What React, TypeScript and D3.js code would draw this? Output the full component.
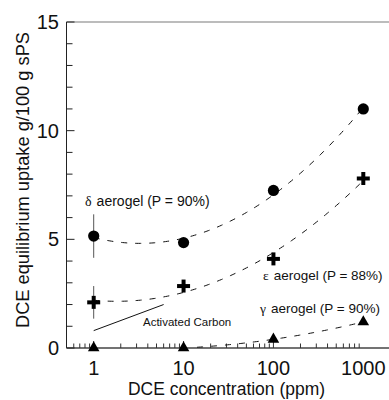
import * as d3 from "d3";

// DCE concentration (ppm)
const conc = [1, 10, 100, 1000];
// uptake, g / 100 g sPS
const deltaUptake = [5.15, 4.85, 7.25, 11.0];
const epsUptake = [2.1, 2.85, 4.1, 7.8];
const gammaUptake = [0, 0, 0.4, 1.2];
// error bars at 1 ppm: [low, high]
const deltaErr = [4.15, 6.15];
const epsErr = [1.35, 2.85];
// activated carbon reference line: [ppm, uptake]
const carbonLine: [number, number][] = [
  [1, 0.8],
  [6, 2.0],
];
const yTicks = d3.range(0, 16, 1);
const yLabels = [0, 5, 10, 15];
const xLabels = [1, 10, 100, 1000];

const W = 389;
const H = 400;
const FONT = "'Liberation Sans', Arial, Helvetica, sans-serif";
const SERIF = "'Liberation Serif', 'Times New Roman', serif";

// least squares quadratic in log10(x)
function quadFit(xs: number[], ys: number[]) {
  const t = xs.map((v) => Math.log10(v));
  const s = (f: (i: number) => number) => d3.sum(t, (_, i) => f(i));
  const n = t.length;
  const A = [
    [n, s((i) => t[i]), s((i) => t[i] ** 2)],
    [s((i) => t[i]), s((i) => t[i] ** 2), s((i) => t[i] ** 3)],
    [s((i) => t[i] ** 2), s((i) => t[i] ** 3), s((i) => t[i] ** 4)],
  ];
  const b = [s((i) => ys[i]), s((i) => t[i] * ys[i]), s((i) => t[i] ** 2 * ys[i])];
  // gaussian elimination
  for (let c = 0; c < 3; c++) {
    for (let r = c + 1; r < 3; r++) {
      const f = A[r][c] / A[c][c];
      for (let k = c; k < 3; k++) A[r][k] -= f * A[c][k];
      b[r] -= f * b[c];
    }
  }
  const co = [0, 0, 0];
  for (let r = 2; r >= 0; r--) {
    let v = b[r];
    for (let k = r + 1; k < 3; k++) v -= A[r][k] * co[k];
    co[r] = v / A[r][r];
  }
  return (tt: number) => co[0] + co[1] * tt + co[2] * tt * tt;
}

export default function App() {
  const x = d3.scaleLog().domain([1, 1000]).range([93.7, 363.3]);
  const y = d3.scaleLinear().domain([0, 15]).range([348, 22]);
  const left = 66.5;
  const right = 389;

  const xMinor: number[] = [];
  [0.1, 1, 10, 100].forEach((dec) =>
    d3.range(1, 10).forEach((m) => {
      const v = dec * m;
      if (x(v) > left + 1 && v <= 1000) xMinor.push(v);
    }),
  );

  const fitLine = (xs: number[], ys: number[], t0: number) => {
    const f = quadFit(xs, ys);
    const pts = d3.range(t0, 3.0001, 0.02).map((tt) => [x(10 ** tt), y(f(tt))] as [number, number]);
    return d3.line()(pts) ?? "";
  };

  const tri = d3.symbol(d3.symbolTriangle, 58)() ?? "";

  return (
    <svg
      width={W}
      height={H}
      style={{ position: "absolute", left: 0, top: 0, background: "#fff" }}
      fontFamily={FONT}
    >
      {/* frame */}
      <line x1={left} x2={right} y1={y(15)} y2={y(15)} stroke="#a6a6a6" strokeWidth={1.6} />
      <line x1={left} x2={left} y1={y(15)} y2={y(0)} stroke="#222" strokeWidth={1} />
      <line x1={left} x2={right} y1={y(0)} y2={y(0)} stroke="#444" strokeWidth={1.6} />

      {/* y ticks */}
      {yTicks.map((v) => (
        <line
          key={"yt" + v}
          x1={left}
          x2={left + (v % 5 === 0 ? 8 : 6)}
          y1={y(v)}
          y2={y(v)}
          stroke="#222"
          strokeWidth={1}
        />
      ))}
      {yLabels.map((v) => (
        <text key={"yl" + v} x={59} y={y(v) + 7} textAnchor="end" fontSize={20} fill="#111">
          {v}
        </text>
      ))}

      {/* x ticks */}
      {xMinor.map((v) => {
        const major = xLabels.includes(v);
        return (
          <line
            key={"xt" + v}
            x1={x(v)}
            x2={x(v)}
            y1={y(0)}
            y2={y(0) - (major ? 7 : 4.5)}
            stroke="#333"
            strokeWidth={1}
          />
        );
      })}
      {xLabels.map((v) => (
        <text key={"xl" + v} x={x(v)} y={375} textAnchor="middle" fontSize={20} fill="#111">
          {v}
        </text>
      ))}

      {/* axis titles */}
      <text x={128} y={395} fontSize={17.5} fill="#111" textLength={197} lengthAdjust="spacingAndGlyphs">
        DCE concentration (ppm)
      </text>
      <text
        transform={`translate(29,328) rotate(-90)`}
        fontSize={18}
        fill="#111"
        textLength={296}
        lengthAdjust="spacingAndGlyphs"
      >
        DCE equilibrium uptake g/100 g sPS
      </text>

      {/* fit curves */}
      <path d={fitLine(conc, deltaUptake, 0)} fill="none" stroke="#111" strokeWidth={1} strokeDasharray="6,8" />
      <path d={fitLine(conc, epsUptake, 0)} fill="none" stroke="#111" strokeWidth={1} strokeDasharray="6,8" />
      <path d={fitLine(conc, gammaUptake, 1.15)} fill="none" stroke="#111" strokeWidth={1} strokeDasharray="6,8" />

      {/* activated carbon */}
      <line
        x1={x(carbonLine[0][0])}
        y1={y(carbonLine[0][1])}
        x2={x(carbonLine[1][0])}
        y2={y(carbonLine[1][1])}
        stroke="#111"
        strokeWidth={1}
      />
      <text x={143} y={326} fontSize={11.5} fill="#111">
        Activated Carbon
      </text>

      {/* error bars */}
      <line x1={x(1)} x2={x(1)} y1={y(deltaErr[0])} y2={y(deltaErr[1])} stroke="#555" strokeWidth={1} />
      <line x1={x(1)} x2={x(1)} y1={y(epsErr[0])} y2={y(epsErr[1])} stroke="#555" strokeWidth={1} />

      {/* markers */}
      {conc.map((c, i) => (
        <circle key={"d" + i} cx={x(c)} cy={y(deltaUptake[i])} r={5.6} fill="#000" />
      ))}
      {conc.map((c, i) => (
        <g key={"e" + i} transform={`translate(${x(c)},${y(epsUptake[i])})`}>
          <line x1={-6.5} x2={6.5} y1={0} y2={0} stroke="#000" strokeWidth={4} />
          <line x1={0} x2={0} y1={-6.5} y2={6.5} stroke="#000" strokeWidth={4} />
        </g>
      ))}
      {conc.map((c, i) => (
        <path key={"g" + i} d={tri} transform={`translate(${x(c)},${y(gammaUptake[i])})`} fill="#000" />
      ))}

      {/* series labels */}
      <text x={85} y={206} fontSize={14} fill="#111">
        <tspan fontFamily={SERIF}>δ</tspan>
        <tspan dx={5}>aerogel (P = 90%)</tspan>
      </text>
      <text x={263} y={280} fontSize={13.5} fill="#111">
        <tspan fontFamily={SERIF}>ε</tspan>
        <tspan dx={5}>aerogel (P = 88%)</tspan>
      </text>
      <text x={260} y={313} fontSize={13.5} fill="#111">
        <tspan fontFamily={SERIF}>γ</tspan>
        <tspan dx={5}>aerogel (P = 90%)</tspan>
      </text>
    </svg>
  );
}
